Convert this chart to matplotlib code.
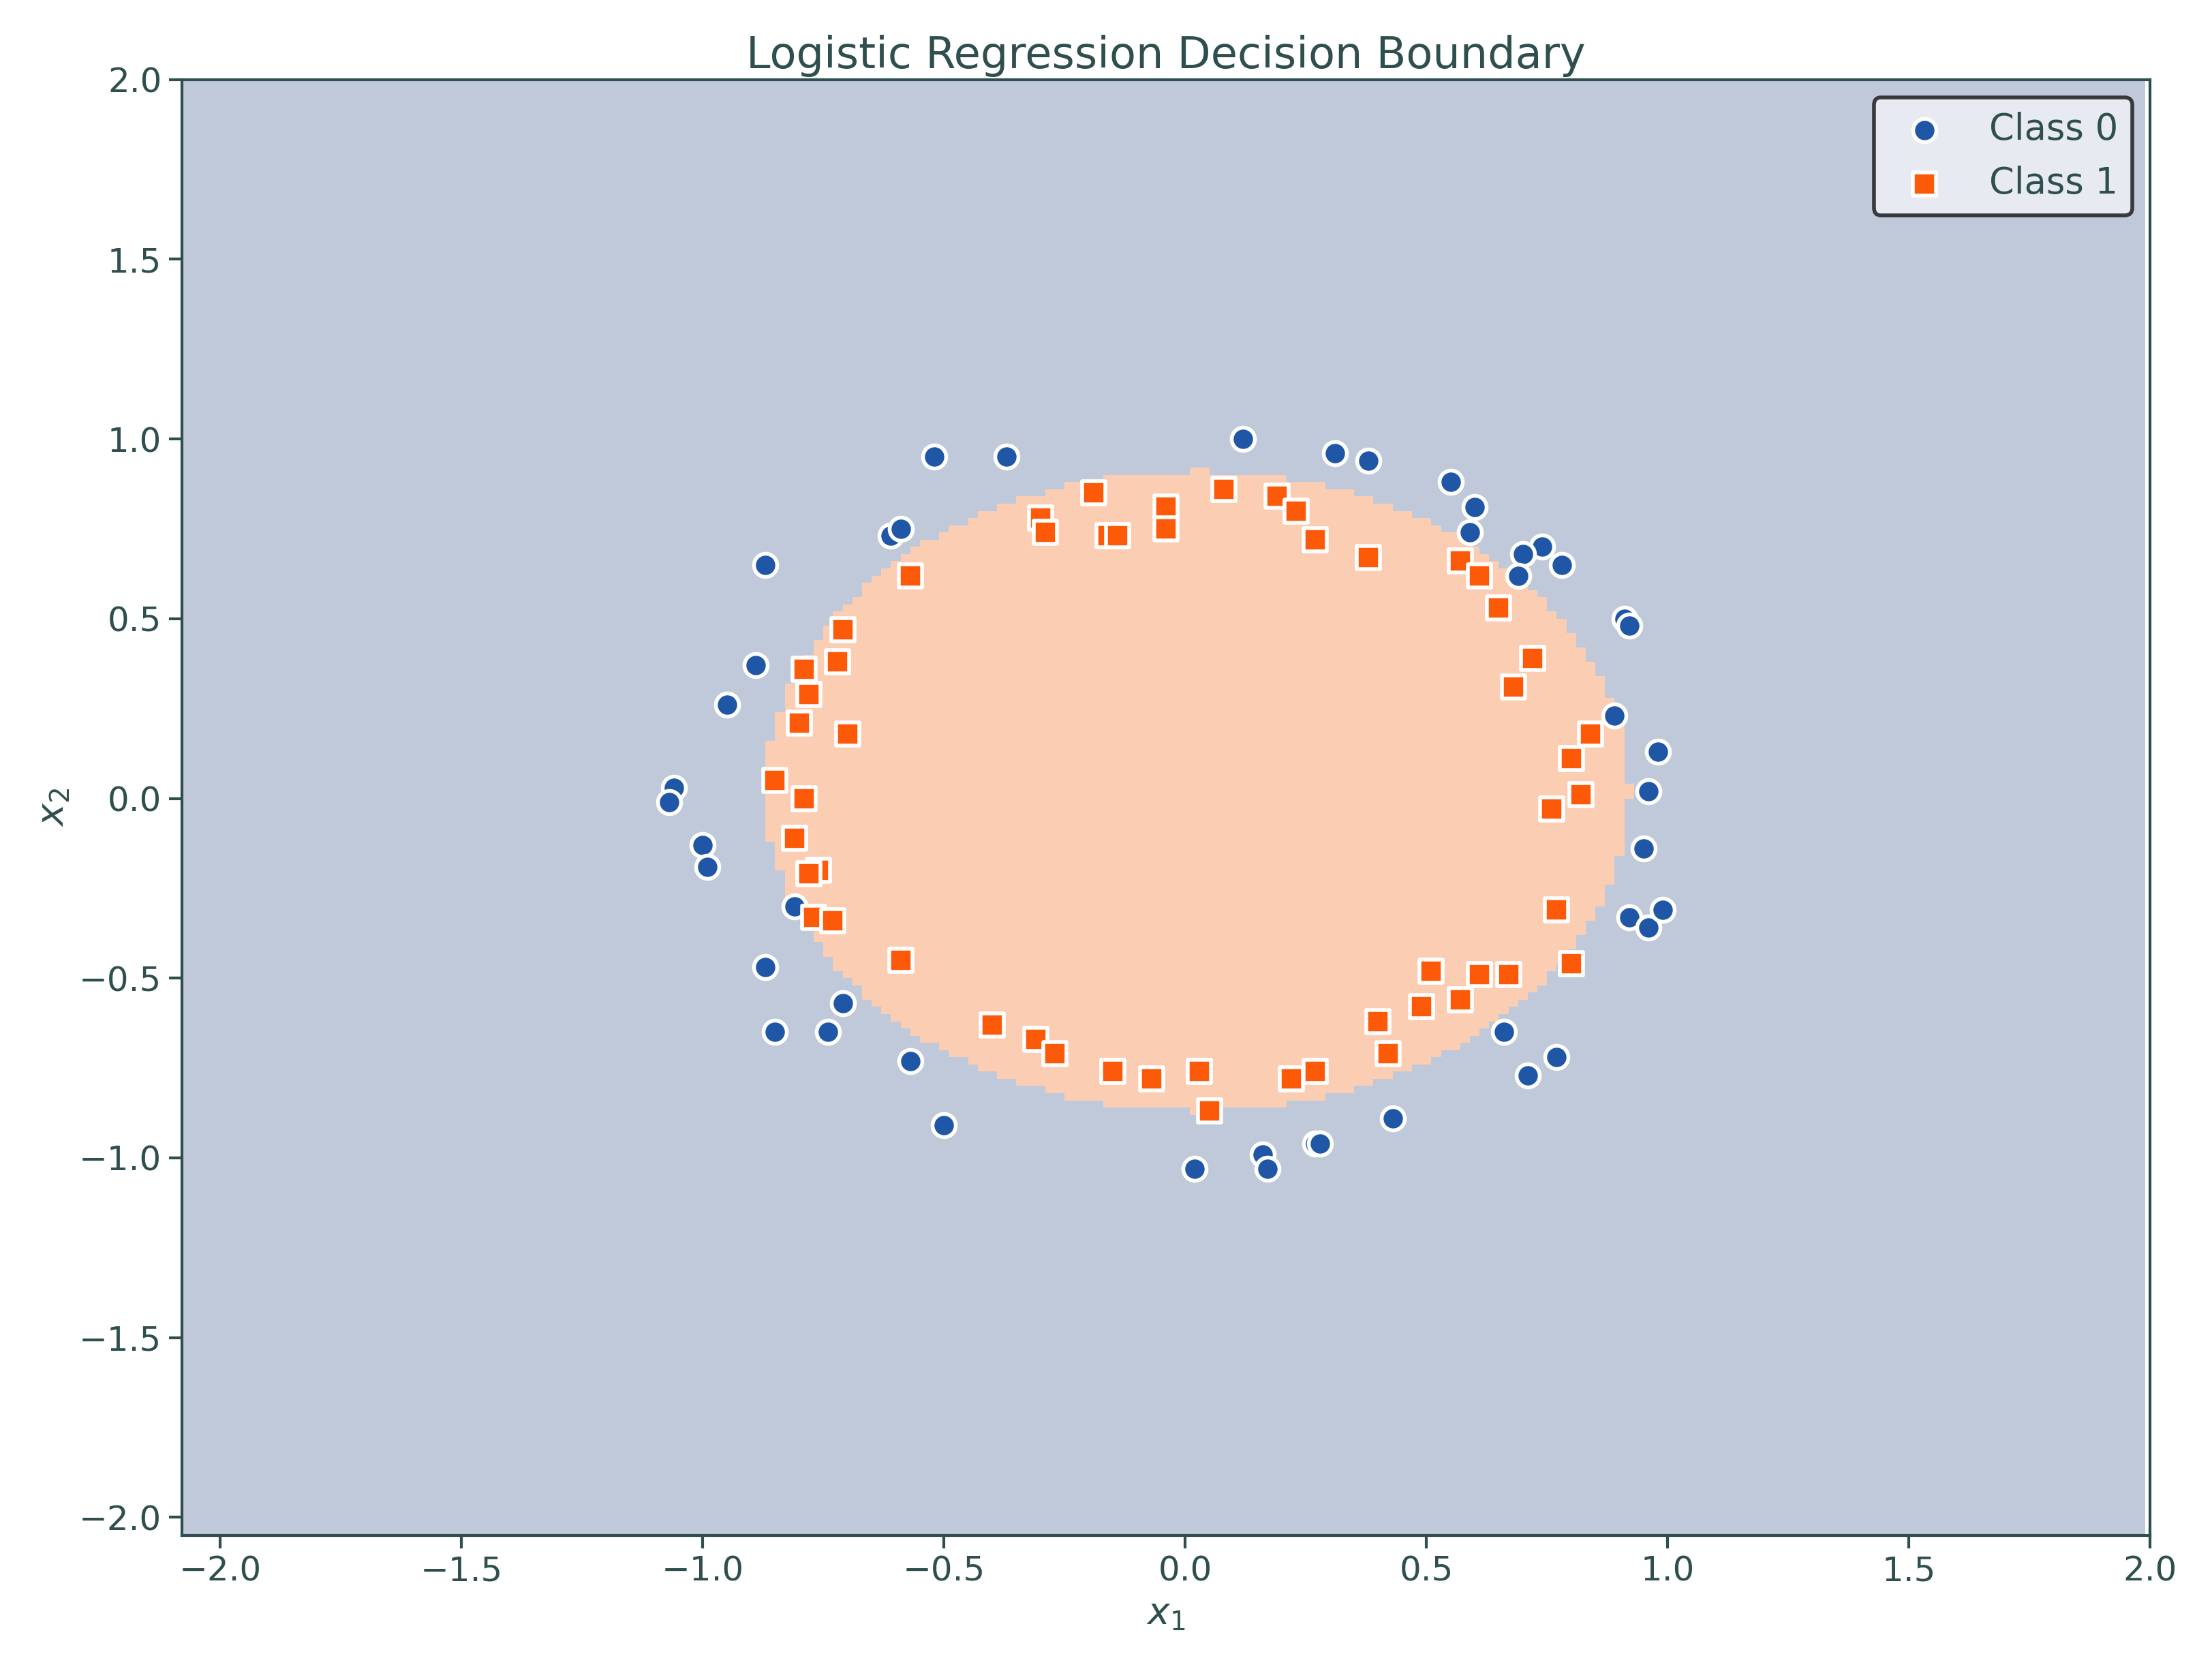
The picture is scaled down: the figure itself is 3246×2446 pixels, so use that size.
import numpy as np
import matplotlib
matplotlib.use("Agg")
import matplotlib.pyplot as plt
from matplotlib.colors import ListedColormap

class0_x1 = [0.12,0.31,0.38,-0.52,-0.37,0.55,0.60,0.59,-0.61,-0.59,0.74,0.70,0.78,0.69,-0.87,0.91,0.92,-0.89,-0.95,0.89,0.98,-1.06,-1.07,0.96,-1.00,-0.99,0.95,-0.81,0.92,0.96,0.99,-0.87,-0.71,-0.85,-0.74,0.66,-0.57,0.77,0.71,-0.50,0.43,0.27,0.28,0.16,0.02,0.17]
class0_x2 = [1.00,0.96,0.94,0.95,0.95,0.88,0.81,0.74,0.73,0.75,0.70,0.68,0.65,0.62,0.65,0.50,0.48,0.37,0.26,0.23,0.13,0.03,-0.01,0.02,-0.13,-0.19,-0.14,-0.30,-0.33,-0.36,-0.31,-0.47,-0.57,-0.65,-0.65,-0.65,-0.73,-0.72,-0.77,-0.91,-0.89,-0.96,-0.96,-0.99,-1.03,-1.03]
class1_x1 = [-0.19,0.08,0.19,0.23,-0.04,-0.30,-0.29,-0.16,-0.14,-0.04,0.27,0.38,0.57,0.61,-0.57,0.65,-0.71,0.72,-0.72,-0.79,0.68,-0.78,-0.80,-0.70,0.84,0.80,-0.85,0.82,-0.79,0.76,-0.81,-0.76,-0.78,0.77,-0.77,-0.73,-0.59,0.80,0.51,0.61,0.67,0.57,0.49,0.40,-0.40,-0.31,-0.27,0.42,-0.15,0.03,-0.07,0.22,0.27,0.05]
class1_x2 = [0.85,0.86,0.84,0.80,0.81,0.78,0.74,0.73,0.73,0.75,0.72,0.67,0.66,0.62,0.62,0.53,0.47,0.39,0.38,0.36,0.31,0.29,0.21,0.18,0.18,0.11,0.05,0.01,0.00,-0.03,-0.11,-0.20,-0.21,-0.31,-0.33,-0.34,-0.45,-0.46,-0.48,-0.49,-0.49,-0.56,-0.58,-0.62,-0.63,-0.67,-0.71,-0.71,-0.76,-0.76,-0.78,-0.78,-0.76,-0.87]

# logistic model coefficients: intercept, x1, x2, x1^2, x2^2
model_coef = [0.9987, 0.0624, 0.0505, -1.248, -1.262]

txt = "#2f4f4f"
plt.rcParams.update({"text.color": txt, "axes.labelcolor": txt, "xtick.color": txt,
                     "ytick.color": txt, "axes.edgecolor": txt, "font.size": 17})

fig, ax = plt.subplots(figsize=(16.23, 12.23), dpi=200)
gx = np.arange(-2.08, 2.0, 0.02)
gy = np.arange(-2.05, 2.0, 0.02)
XX, YY = np.meshgrid(gx, gy)
b0, b1, b2, b11, b22 = model_coef
Z = (b0 + b1*XX + b2*YY + b11*XX**2 + b22*YY**2) > 0
ax.pcolormesh(XX, YY, Z.astype(float), cmap=ListedColormap(["#c0c9da", "#fbcdb2"]), shading="auto")

ax.scatter(class0_x1, class0_x2, c="#1f56a5", marker="o", s=150, edgecolors="white", linewidths=2, label="Class 0", zorder=3)
ax.scatter(class1_x1, class1_x2, c="#fc5a08", marker="s", s=150, edgecolors="white", linewidths=2, label="Class 1", zorder=3)

ax.set_xlim(-2.08, 2.0)
ax.set_ylim(-2.05, 2.0)
ax.set_xticks(np.arange(-2.0, 2.01, 0.5))
ax.set_yticks(np.arange(-2.0, 2.01, 0.5))
ax.tick_params(labelsize=18, width=1.5, length=7)
for s in ax.spines.values():
    s.set_linewidth(1.5)
ax.set_xlabel("$x_1$", fontsize=20)
ax.set_ylabel("$x_2$", fontsize=20)
ax.set_title("Logistic Regression Decision Boundary", fontsize=23)
leg = ax.legend(loc="upper right", fontsize=19, frameon=True, facecolor="#f2f4f8", edgecolor="#111111", fancybox=True)
leg.get_frame().set_linewidth(2)
for t in leg.get_texts():
    t.set_color(txt)
fig.tight_layout()
fig.savefig("out.png", dpi=200)
